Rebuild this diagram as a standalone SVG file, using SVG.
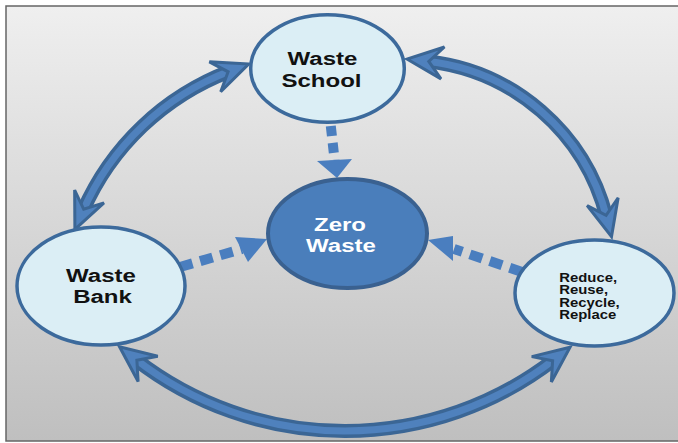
<svg xmlns="http://www.w3.org/2000/svg" width="678" height="443" viewBox="0 0 678 443">
<defs>
<linearGradient id="bg" x1="0" y1="0" x2="0" y2="1">
<stop offset="0" stop-color="#efefef"/>
<stop offset="1" stop-color="#bfbfbf"/>
</linearGradient>
<marker id="hd" markerUnits="userSpaceOnUse" orient="auto-start-reverse" markerWidth="60" markerHeight="60" viewBox="-30 -30 60 60" refX="0" refY="0" overflow="visible">
<path d="M20,0 L-16,-16 L-2,0 L-16,16 Z" fill="#4f81bd" stroke="#3b6695" stroke-width="3" stroke-linejoin="miter"/>
</marker>
</defs>
<style>
.ring-o{fill:none;stroke:#3b6695;stroke-width:14}
.ring-i{fill:none;stroke:#4f81bd;stroke-width:7;marker-start:url(#hd);marker-end:url(#hd)}
.dot{fill:none;stroke:#4a7ebf;stroke-width:10}
.dh{fill:#4a7ebf}
.node{fill:#dbeef5;stroke:#3c6a9c;stroke-width:3.5}
.zero{fill:#4a7ebb;stroke:#3a6190;stroke-width:4}
.big{font-family:"Liberation Sans",Arial,sans-serif;font-weight:bold;font-size:18.5px;text-anchor:middle;fill:#111}
.sm{font-family:"Liberation Sans",Arial,sans-serif;font-weight:bold;font-size:12.5px;fill:#111}
.wt{fill:#ffffff}
</style>
<rect x="0" y="0" width="678" height="443" fill="#ffffff"/>
<rect x="6" y="6" width="680" height="435" fill="url(#bg)" stroke="#666666" stroke-width="1.5"/>
<g id="connectors">
<path class="ring-o" d="M82.9,211.1 A262,262 0 0 1 230,71.1"/>
<path class="ring-i" d="M82.9,211.1 A262,262 0 0 1 230,71.1"/>
<path class="ring-o" d="M426.8,61.2 A208.8,208.8 0 0 1 606.6,217.2"/>
<path class="ring-i" d="M426.8,61.2 A208.8,208.8 0 0 1 606.6,217.2"/>
<path class="ring-o" d="M135.3,359.1 A341.8,341.8 0 0 0 554.2,359.5"/>
<path class="ring-i" d="M135.3,359.1 A341.8,341.8 0 0 0 554.2,359.5"/>
<path class="dot" d="M330.8,126 L334.6,160" stroke-dasharray="10 7"/>
<polygon class="dh" points="317,161 352,159 337,178"/>
<path class="dot" d="M180,267 L242,249" stroke-dasharray="13 8"/>
<polygon class="dh" points="235,237 248,262 267,239"/>
<path class="dot" d="M522,272 L454,249" stroke-dasharray="13 8"/>
<polygon class="dh" points="453,236 453,261 428,240"/>
</g>
<g id="node-school">
<ellipse class="node" cx="327.5" cy="68.5" rx="76.8" ry="53.8"/>
<text class="big" transform="translate(322.5,65) scale(1.3,1)">Waste</text>
<text class="big" transform="translate(321.5,86.7) scale(1.3,1)">School</text>
</g>
<g id="node-zero">
<ellipse class="zero" cx="347.5" cy="233.5" rx="79.5" ry="54.5"/>
<text class="big wt" transform="translate(340,230.7) scale(1.3,1)">Zero</text>
<text class="big wt" transform="translate(341,251.7) scale(1.3,1)">Waste</text>
</g>
<g id="node-bank">
<ellipse class="node" cx="101" cy="286" rx="84" ry="59"/>
<text class="big" transform="translate(101,282) scale(1.3,1)">Waste</text>
<text class="big" transform="translate(102.5,303) scale(1.3,1)">Bank</text>
</g>
<g id="node-reduce">
<ellipse class="node" cx="594.5" cy="293" rx="79.5" ry="53"/>
<text class="sm" transform="translate(559.3,281.7) scale(1.19,1)">Reduce,</text>
<text class="sm" transform="translate(559.3,294.3) scale(1.19,1)">Reuse,</text>
<text class="sm" transform="translate(559.3,306.7) scale(1.19,1)">Recycle,</text>
<text class="sm" transform="translate(559.3,319.3) scale(1.19,1)">Replace</text>
</g>
</svg>
